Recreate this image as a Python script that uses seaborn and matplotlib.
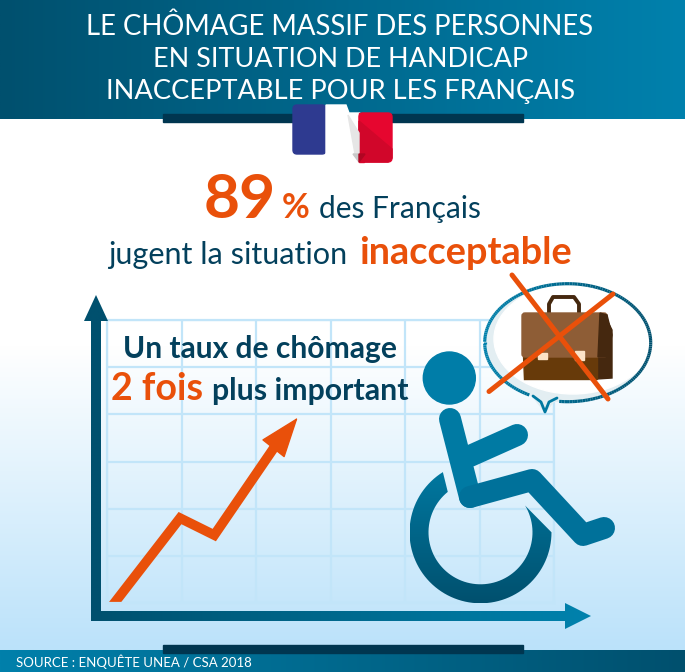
import numpy as np
import pandas as pd
import seaborn as sns
import matplotlib.pyplot as plt
from matplotlib.collections import LineCollection
from matplotlib.colors import LinearSegmentedColormap
from matplotlib.patches import Circle, Ellipse, FancyBboxPatch, Polygon, Rectangle

W, H = 685, 672

# the rising line of the little chart, in grid cells
chart_x = [0.05, 0.98, 1.44, 2.25]
chart_y = [-0.1, 1.8, 1.44, 3.31]
arrow_tip = (2.56, 3.93)
grid_cols = [0, 1, 2, 3, 4, 5, 6]
grid_rows = [0, 1, 2, 3, 4, 5, 6]

title_lines = ["LE CHÔMAGE MASSIF DES PERSONNES",
               "EN SITUATION DE HANDICAP",
               "INACCEPTABLE POUR LES FRANÇAIS"]
source = "SOURCE : ENQUÊTE UNEA / CSA 2018"

ORANGE = "#e9500a"
NAVY = "#03405c"
DARK = "#00506e"
BLUE = "#0080ab"
GRID = "#c2e5f9"

sns.set_theme(style="white")
plt.rcParams['font.family'] = ['Lato', 'DejaVu Sans']

fig = plt.figure(figsize=(W / 100, H / 100), dpi=100)

# three layers: page background, chart grid, everything else
back = fig.add_axes([0, 0, 1, 1], zorder=0)
chart = fig.add_axes([107 / W, 1 - 603 / H, (554 - 107) / W, (603 - 320) / H], zorder=1)
ax = fig.add_axes([0, 0, 1, 1], zorder=2)
for a in (back, ax):
    a.set_xlim(0, W)
    a.set_ylim(H, 0)
    a.axis("off")
    a.autoscale(False)


def gradient(verts, c0, c1, vertical=True, z=2):
    # fill a polygon with a linear gradient
    cmap = LinearSegmentedColormap.from_list("g", [c0, c1])
    verts = np.array(verts)
    x0, y0 = verts.min(axis=0)
    x1, y1 = verts.max(axis=0)
    grad = np.linspace(0, 1, 256)
    grad = grad.reshape(-1, 1) if vertical else grad.reshape(1, -1)
    im = ax.imshow(grad, cmap=cmap, extent=[x0, x1, y1, y0], aspect="auto",
                   zorder=z, interpolation="bilinear")
    im.set_clip_path(Polygon(verts, closed=True, transform=ax.transData))
    return im


def label(x0, x1, base, s, color, weight="normal", z=8):
    # put a text on its baseline and scale it to span x0..x1
    t = ax.text(x0, base, s, color=color, fontweight=weight, fontsize=20,
                ha="left", va="baseline", zorder=z)
    box = t.get_window_extent(fig.canvas.get_renderer())
    t.set_fontsize(20 * (x1 - x0) / box.width)
    return t


def limb(xs, ys, color, lw=22, z=6):
    ax.plot(xs, ys, color=color, lw=lw * 0.72, solid_capstyle="round",
            solid_joinstyle="round", zorder=z)


# page background
page = LinearSegmentedColormap.from_list("p", ["#ffffff", "#bbe2fa"])
back.imshow(np.linspace(0, 1, 256).reshape(-1, 1), cmap=page, extent=[0, W, 650, 345], aspect="auto")

# chart grid and rising line
chart.patch.set_alpha(0)
chart.set_xlim(grid_cols[0], grid_cols[-1])
chart.set_ylim(grid_rows[0], grid_rows[-1])
chart.set_xticks(grid_cols)
chart.set_yticks(grid_rows)
chart.grid(True, color=GRID, lw=1.6)
for sp in chart.spines.values():
    sp.set_color(GRID)
    sp.set_linewidth(1.6)
df = pd.DataFrame({"x": chart_x, "y": chart_y})
sns.lineplot(data=df, x="x", y="y", sort=False, color=ORANGE, lw=7, ax=chart,
             solid_joinstyle="miter", solid_capstyle="butt")
chart.annotate("", xy=arrow_tip, xytext=(chart_x[-1], chart_y[-1]),
               arrowprops=dict(arrowstyle="-|>,head_length=1.21,head_width=0.44", color=ORANGE,
                               lw=1, shrinkA=0, shrinkB=0, mutation_scale=22))
chart.set_xlabel("")
chart.set_ylabel("")
chart.tick_params(labelleft=False, labelbottom=False, length=0)

# header and footer bands
gradient([(0, 0), (W, 0), (W, 119), (0, 119)], "#00506e", "#0081ad", vertical=False, z=1)
gradient([(0, 650), (W, 650), (W, H), (0, H)], "#0080ab", "#00506e", vertical=False, z=1)
ax.add_patch(Rectangle((163, 114), 360, 8, color="#003650", zorder=2))
ax.add_patch(Rectangle((163, 645), 360, 8, color="#003650", zorder=2))

label(86, 593, 35, title_lines[0], "white")
label(153, 527, 67, title_lines[1], "white")
label(106, 574, 99, title_lines[2], "white")
label(16, 250, 667, source, "white")

# flag
ax.add_patch(FancyBboxPatch((293, 105), 33, 49, boxstyle="round,pad=0,rounding_size=4",
                            color="#2e3a90", zorder=3))
ax.add_patch(Polygon([(326, 105), (346, 105), (349, 113), (360, 113), (360, 154), (326, 154)],
                     color="white", zorder=3))
ax.add_patch(FancyBboxPatch((359, 113), 33, 49, boxstyle="round,pad=0,rounding_size=4",
                            color="#e6062f", zorder=3))
ax.add_patch(Rectangle((359, 113), 5, 49, color="#e6062f", zorder=3))
ax.add_patch(Polygon([(359, 121), (392, 149), (392, 158), (388, 162), (359, 162)],
                     color="#d1062a", zorder=3))
ax.add_patch(Polygon([(348, 115), (359, 133), (359, 154), (355, 154)], color="#e6e6e6", zorder=3))
ax.add_patch(Polygon([(353, 154), (359, 162), (359, 154)], color="#c8c8c8", zorder=3))
ax.add_patch(Polygon([(359, 154), (359, 162), (365, 154)], color="#b00522", zorder=3))

# headline
label(204, 276, 218, "89", ORANGE, weight="bold")
label(282, 310, 218, "%", ORANGE, weight="bold")
label(319, 481, 218, "des Français", NAVY)
label(108, 348, 264, "jugent la situation", NAVY)
label(359, 572, 264, "inacceptable", ORANGE, weight="bold")

# chart text
label(123, 397, 358, "Un taux de chômage", NAVY, weight="bold")
label(111, 203, 400, "2 fois", ORANGE, weight="bold")
label(212, 408, 400, "plus important", NAVY, weight="bold")

# big axis arrows
gradient([(91, 621), (91, 321), (84, 321), (96, 295), (108, 321), (101, 321), (101, 621)],
         DARK, DARK, z=3)
gradient([(91, 611), (565, 611), (565, 603), (591, 616), (565, 629), (565, 621), (91, 621)],
         DARK, "#0082ad", vertical=False, z=3)

# speech bubble
t = np.radians(np.linspace(0, 360, 200))
bx = 567.7 + 83 * np.cos(t)
by = 342.7 + 59 * np.sin(t)
ax.add_patch(Ellipse((567.7, 342.7), 166, 118, color="#e3eef2", zorder=4))
ax.add_patch(Polygon([(533, 397), (545, 412), (557, 398)], color="#e3eef2", zorder=4))
ax.add_patch(Ellipse((573, 339), 158, 110, color="white", zorder=4))
pts = np.column_stack([bx, by]).reshape(-1, 1, 2)
segs = np.concatenate([pts[:-1], pts[1:]], axis=1)
cmap_b = LinearSegmentedColormap.from_list("b", [BLUE, DARK])
keep = ~((bx[:-1] > 531) & (bx[:-1] < 560) & (by[:-1] > 380))
lc = LineCollection(segs[keep], cmap=cmap_b, lw=2.3, zorder=5)
lc.set_array(((bx[:-1] - 484) / 166)[keep])
ax.add_collection(lc)
ax.plot([533, 541, 545, 549, 557], [396, 402, 412, 402, 398], color="#0078a0", lw=2, zorder=5)

# briefcase
ax.plot([549, 549, 553, 574, 579, 579], [314, 304, 297, 297, 304, 314], color="#45280f", lw=2.8, zorder=5)
ax.add_patch(Polygon([(597, 314), (604, 314), (612, 330), (612, 378), (597, 379)], color="#45280f", zorder=5))
ax.add_patch(Polygon([(523, 355), (597, 355), (597, 379), (524, 379)], color="#673a0a", zorder=5))
ax.add_patch(FancyBboxPatch((522, 313), 85, 44, boxstyle="round,pad=0,rounding_size=3", color="#8e5d36", zorder=5))
ax.add_patch(Polygon([(600, 313), (607, 315), (612, 335), (607, 357), (598, 357)], color="#45280f", zorder=5))
ax.add_patch(Rectangle((538, 353), 9, 6, color="#fbe3c8", zorder=5))
ax.add_patch(Rectangle((575, 351), 9, 9, color="#fbe3c8", zorder=5))

# red cross over the briefcase
ax.plot([512, 608], [275, 399], color=ORANGE, lw=3.6, solid_capstyle="round", zorder=6)
ax.plot([613, 489], [294, 391.5], color=ORANGE, lw=3.6, solid_capstyle="round", zorder=6)

# wheelchair user
ax.add_patch(Circle((449.3, 378), 26, color="#007da8", zorder=6))
limb([450, 470], [419, 497], "#007aa3")
limb([470, 517], [456, 435], "#007aa3")
limb([470, 532, 583, 604], [497, 480, 535, 528], "#00719a")
a_out = np.radians(np.linspace(122, 360, 80))
a_in = np.radians(np.linspace(391, 129, 80))
ring = np.vstack([np.column_stack([480.5 + 71 * np.cos(a_out), 532.3 - 71 * np.sin(a_out)]),
                  np.column_stack([480.5 + 52 * np.cos(a_in), 532.3 - 52 * np.sin(a_in)])])
gradient(ring, "#0078a0", DARK, z=6)

fig.savefig("out.png", dpi=100)
